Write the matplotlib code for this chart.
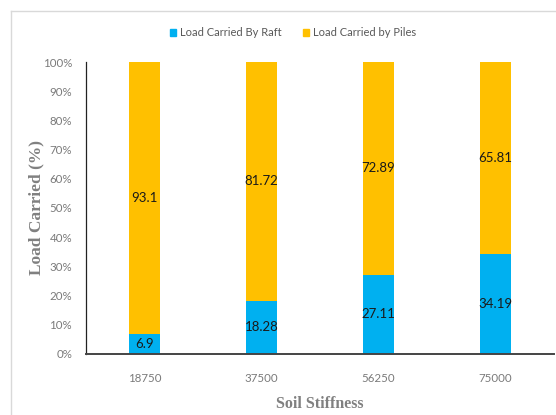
import numpy as np
import matplotlib
matplotlib.use("Agg")
from matplotlib import pyplot as plt
from matplotlib.lines import Line2D
from matplotlib.patches import Patch

stiffness = ["18750", "37500", "56250", "75000"]
raft = [6.9, 18.28, 27.11, 34.19]
piles = [93.1, 81.72, 72.89, 65.81]

raft_color = "#00B0F0"
piles_color = "#FFC000"
sans = ["Lato", "DejaVu Sans"]
serif = ["Liberation Serif", "DejaVu Serif"]

fig = plt.figure(figsize=(5.56, 4.15), dpi=100)
ax = fig.add_axes([0.1547, 0.147, 0.8417, 0.7036])

x = np.arange(len(stiffness))
w = 0.27
b1 = ax.bar(x, raft, w, color=raft_color, label="Load Carried By Raft")
b2 = ax.bar(x, piles, w, bottom=raft, color=piles_color, label="Load Carried by Piles")

# value labels centred in each segment
for i in range(len(x)):
	ax.text(x[i], raft[i] / 2, "%g" % raft[i], ha="center", va="center",
		fontsize=9.5, family=sans, color="#1a1a1a")
	ax.text(x[i], raft[i] + piles[i] / 2, "%g" % piles[i], ha="center", va="center",
		fontsize=9.5, family=sans, color="#1a1a1a")

ax.set_xlim(-0.5, 3.5)
ax.set_ylim(0, 100)
ax.set_yticks(np.arange(0, 101, 10))
ax.set_yticklabels(["%d%%" % v for v in range(0, 101, 10)])
ax.set_xticks(x)
ax.set_xticklabels(stiffness)
for lab in ax.get_xticklabels() + ax.get_yticklabels():
	lab.set_family(sans)
	lab.set_fontsize(8.3)
	lab.set_color("#7a7a7a")
ax.tick_params(axis="both", length=0)
ax.tick_params(axis="y", pad=10)
ax.tick_params(axis="x", pad=14)

ax.spines["top"].set_visible(False)
ax.spines["right"].set_visible(False)
ax.spines["left"].set_color("#222222")
ax.spines["left"].set_linewidth(0.9)
ax.spines["bottom"].set_color("#444444")
ax.spines["bottom"].set_linewidth(1.4)

ax.set_xlabel("Soil Stiffness", family=serif, fontweight="bold", fontsize=11.5,
	color="#808080", labelpad=8)
ax.set_ylabel("Load Carried (%)", family=serif, fontweight="bold", fontsize=12.5,
	color="#808080")
ax.yaxis.set_label_coords(-0.088, 0.5)

handles = [Patch(color=raft_color), Patch(color=piles_color)]
leg = fig.legend(handles, ["Load Carried By Raft", "Load Carried by Piles"],
	loc="center", bbox_to_anchor=(293 / 556, 1 - 33 / 415), ncol=2, frameon=False,
	handlelength=0.55, handleheight=0.55, handletextpad=0.3, columnspacing=2.0,
	prop={"family": sans, "size": 8})
for t in leg.get_texts():
	t.set_color("#595959")

# light chart-area border
fig.add_artist(Line2D([11 / 556, 11 / 556], [0, 1 - 11 / 415], color="#D9D9D9", lw=1))
fig.add_artist(Line2D([11 / 556, 1], [1 - 11 / 415, 1 - 11 / 415], color="#D9D9D9", lw=1))

fig.savefig("out.png", dpi=100)
